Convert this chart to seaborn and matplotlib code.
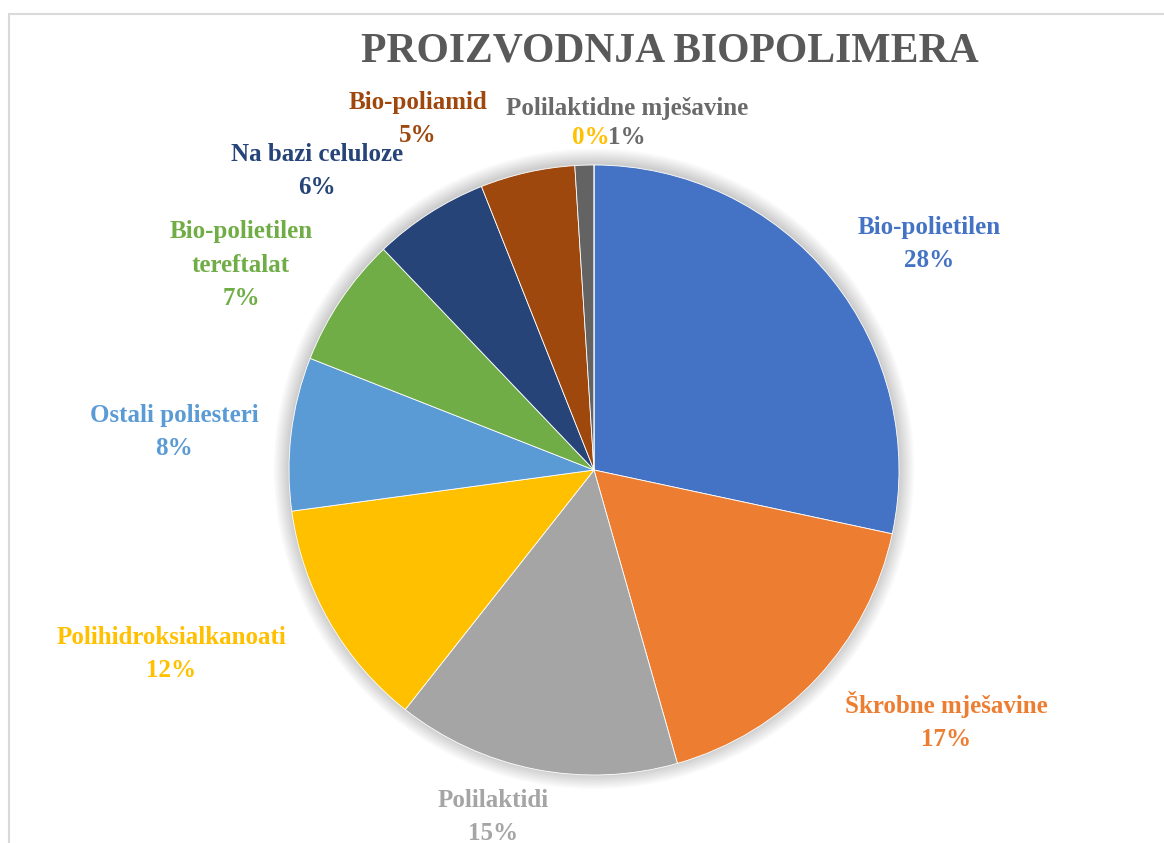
import numpy as np
import matplotlib
matplotlib.use('Agg')
import matplotlib.pyplot as plt
import seaborn as sns
from matplotlib.patches import Circle, Rectangle

# data (share of biopolymer production, %)
categories = ['Bio-polietilen', 'Škrobne mješavine', 'Polilaktidi', 'Polihidroksialkanoati',
              'Ostali poliesteri', 'Bio-polietilen\ntereftalat', 'Na bazi celuloze', 'Bio-poliamid',
              'Polilaktidne mješavine', '']
values = [28.3, 17.2, 15.0, 12.2, 8.1, 6.9, 6.1, 5.0, 1.0, 0.0]
pct_labels = ['28%', '17%', '15%', '12%', '8%', '7%', '6%', '5%', '1%', '0%']
title = 'PROIZVODNJA BIOPOLIMERA'

colors = ['#4472C4', '#ED7D31', '#A5A5A5', '#FFC000', '#5B9BD5', '#70AD47',
          '#264478', '#9E480E', '#636363', '#997300']
label_colors = colors[:8] + ['#6A6A6A', '#FFC000']

# label anchor offsets from the pie centre, in pixels (x right, y down)
label_pos = [(335, -226), (352, 251), (-101, 347), (-423, 184), (-420, -38),
             (-353, -205), (-277, -299), (-176, -351), (33, -332), (-3, -332)]

sns.set_theme(style='white')
plt.rcParams['font.family'] = ['Liberation Serif', 'DejaVu Serif']

W, H = 1164, 843
fig = plt.figure(figsize=(W / 100, H / 100), dpi=100)

# chart area border
fig.add_artist(Rectangle((9 / W, -0.1), 1.2, 1 - 14 / H + 0.1, transform=fig.transFigure,
                         fill=False, edgecolor='#D9D9D9', linewidth=1.5))

cx, cy, r = 594, 470, 305
ax = fig.add_axes([(cx - r) / W, (H - cy - r) / H, 2 * r / W, 2 * r / H])

# soft shadow around the pie
for i in range(10):
    ax.add_patch(Circle((0, 0.004), 1 + 0.005 * (i + 1), color='#000000', alpha=0.018,
                        zorder=0, lw=0, clip_on=False))

ax.pie(values, colors=colors, startangle=90, counterclock=False, radius=1,
       wedgeprops=dict(edgecolor='white', linewidth=0.6, zorder=2))
ax.set_xlim(-1, 1)
ax.set_ylim(-1, 1)
ax.set_aspect('equal')
ax.axis('off')

fs = 18
for name, pct, col, (dx, dy) in zip(categories, pct_labels, label_colors, label_pos):
    x, y = dx / r, -dy / r
    if name == 'Polilaktidne mješavine':
        ax.text(x, y + 30 / r, name, color=col, ha='center', va='center',
                fontsize=fs, fontweight='bold', clip_on=False)
        ax.text(x, y, pct, color=col, ha='center', va='center',
                fontsize=fs, fontweight='bold', clip_on=False)
        continue
    txt = pct if name == '' else name + '\n' + pct
    ax.text(x, y, txt, color=col, ha='center', va='center', fontsize=fs,
            fontweight='bold', linespacing=1.6, clip_on=False)

fig.text(670 / W, 1 - 62 / H, title, ha='center', va='baseline', fontsize=30,
         fontweight='bold', color='#595959')

fig.savefig('out.png', dpi=100)
